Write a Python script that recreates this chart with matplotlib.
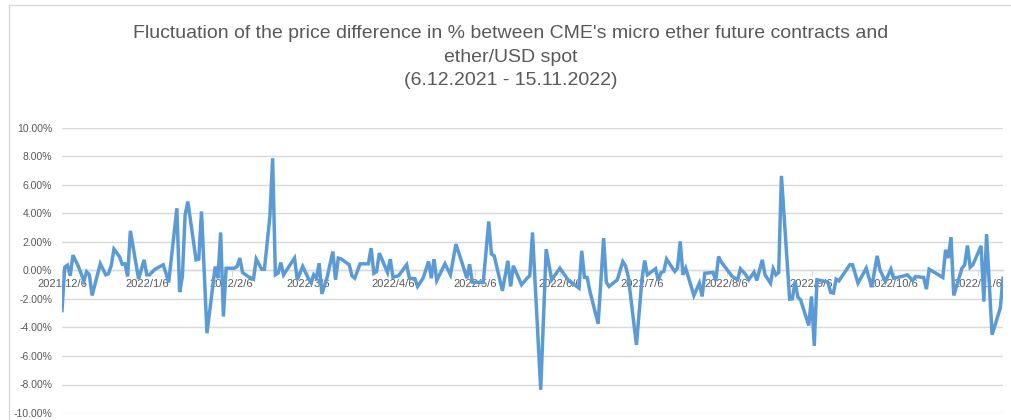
import matplotlib
matplotlib.use("Agg")
import matplotlib.pyplot as plt
from matplotlib.ticker import FuncFormatter
import pandas as pd

# ---- data ----
start_date = "2021-12-06"
end_date = "2022-11-15"
day_offsets = [
    0, 1, 2, 3, 4, 6, 8, 9, 10, 11, 14, 16, 17, 18, 19, 21, 22, 23, 24, 25,
    28, 30, 31, 32, 34, 37, 38, 39, 42, 43, 44, 45, 46, 49, 50, 51, 53, 56, 57, 58,
    59, 60, 63, 64, 65, 66, 68, 70, 71, 73, 74, 76, 77, 78, 79, 80, 81, 85, 86, 88,
    90, 91, 92, 93, 94, 95, 97, 99, 100, 101, 102, 105, 106, 107, 109, 112, 113, 114, 115, 116,
    119, 120, 121, 123, 126, 127, 129, 130, 132, 134, 135, 136, 137, 140, 142, 144, 146, 148, 149, 150,
    154, 156, 157, 158, 161, 163, 164, 165, 168, 170, 171, 172, 175, 177, 179, 182, 185, 189, 190, 191,
    192, 193, 196, 198, 199, 200, 203, 205, 206, 207, 210, 212, 213, 214, 217, 218, 219, 220, 221, 224,
    225, 226, 227, 228, 231, 233, 234, 235, 238, 239, 240, 241, 242, 245, 247, 248, 250, 251, 253, 254,
    256, 257, 259, 260, 261, 262, 263, 266, 267, 268, 269, 270, 273, 274, 275, 276, 278, 280, 281, 282,
    283, 284, 288, 289, 291, 294, 296, 298, 299, 301, 303, 304, 307, 309, 311, 312, 315, 316, 317, 322,
    323, 324, 325, 326, 329, 330, 331, 332, 333, 336, 337, 338, 340, 343, 344,
]
price_diff_pct = [
    -2.81, 0.23, 0.37, -0.37, 1.08, 0.28, -0.73, -0.09, -0.30, -1.75, 0.47, -0.30, -0.23, 0.35, 1.50, 0.98, 0.44, 0.47, -0.42, 2.78,
    -0.61, 0.75, -0.30, -0.30, 0.09, 0.40, -0.19, -0.84, 4.37, -1.52, -0.42, 3.90, 4.84, 0.75, 0.80, 4.14, -4.40, 0.28, -0.54, 2.67,
    -3.23, 0.16, 0.16, 0.28, 0.87, -0.14, -0.42, -0.61, 0.80, 0.09, 0.09, 3.79, 7.88, -0.30, -0.19, 0.56, -0.30, 0.87, -0.65, 0.28,
    -0.54, -0.84, -0.30, -0.54, 0.51, -1.64, -0.42, 1.33, -0.65, 0.87, 0.82, 0.40, -0.37, -0.54, 0.47, 0.47, 1.57, -0.19, -0.07, 1.22,
    -0.14, 0.80, -0.47, -0.37, 0.40, -0.54, -0.58, -1.12, -0.54, 0.63, -0.54, 0.80, -0.70, 0.47, -0.30, 1.85, 0.68, -0.54, 0.44, -0.82,
    -0.84, 3.44, 1.15, 1.03, -1.43, 0.68, -1.12, 0.33, -1.00, -0.54, -0.37, 2.67, -8.37, 1.50, -0.65, 0.16, -0.65, -1.24, 1.38, -0.49,
    -0.49, -1.47, -3.74, 2.27, -0.84, -1.12, -0.65, 0.63, 0.33, -0.42, -5.22, -0.65, 0.70, -0.30, 0.12, -0.70, -0.14, -0.07, 0.80, -0.07,
    0.16, 2.04, -0.30, 0.16, -1.75, -0.89, -1.82, -0.19, -0.14, -0.73, 0.98, 0.60, 0.35, -0.42, -0.65, 0.12, -0.30, -0.65, -0.12, -0.70,
    0.75, -0.30, -0.89, 0.12, -0.30, -0.14, 6.64, -2.01, -1.99, -0.77, -1.87, -2.06, -3.86, -1.82, -5.29, -0.65, -0.73, -0.82, -1.54, -1.59,
    -0.61, -0.73, 0.40, 0.40, -0.89, 0.16, -1.17, 1.03, 0.05, -0.77, 0.09, -0.54, -0.42, -0.30, -0.70, -0.42, -0.49, -1.31, 0.09, -0.49,
    1.45, 0.87, 2.34, -1.75, 0.16, 0.40, 1.75, 0.23, 0.40, 1.73, -2.18, 2.55, -4.51, -2.64, -0.54,
]
y_ticks = [-10, -8, -6, -4, -2, 0, 2, 4, 6, 8, 10]
title_lines = [
    "Fluctuation of the price difference in % between CME's micro ether future contracts and",
    "ether/USD spot",
    "(6.12.2021 - 15.11.2022)",
]

# ---- build ----
t0 = pd.Timestamp(start_date)
dates = t0 + pd.to_timedelta(day_offsets, unit="D")
tick_dates = pd.date_range(t0, pd.Timestamp(end_date), freq="MS") + pd.Timedelta(days=5)
tick_dates = [t0] + [d for d in tick_dates if d > t0]

GRAY_TXT = "#595959"
GRID = "#D9D9D9"
BLUE = "#5B9BD5"

fig = plt.figure(figsize=(10.11, 4.20), dpi=100)
fig.patch.set_facecolor("white")

ax = fig.add_axes([62 / 1011, 1 - 413 / 420, (1003 - 62) / 1011, (413 - 128) / 420])
ax.plot(dates, price_diff_pct, color=BLUE, lw=2.5, solid_joinstyle="miter", zorder=3)

ax.set_ylim(-10, 10)
ax.set_yticks(y_ticks)
ax.yaxis.set_major_formatter(FuncFormatter(lambda v, p: f"{v:.2f}%"))
ax.set_xlim(t0, pd.Timestamp(end_date))
ax.set_xticks(tick_dates)
ax.set_xticklabels([f"{d.year}/{d.month}/{d.day}" for d in tick_dates])

ax.grid(axis="y", color=GRID, lw=1.0, zorder=0)
for s in ["top", "right", "left"]:
    ax.spines[s].set_visible(False)
ax.spines["bottom"].set_position(("data", 0))
ax.spines["bottom"].set_color(GRID)
ax.spines["bottom"].set_linewidth(1.0)
ax.spines["bottom"].set_zorder(1)

ax.tick_params(axis="y", length=0, pad=7, labelsize=7.5, labelcolor=GRAY_TXT)
ax.tick_params(axis="x", length=4, color=GRID, pad=2, labelsize=8, labelcolor=GRAY_TXT)
for lab in ax.get_xticklabels() + ax.get_yticklabels():
    lab.set_family(["Liberation Sans", "DejaVu Sans"])

fig.text(511 / 1011, 1 - 57 / 420, "\n".join(title_lines), ha="center", va="center",
         fontsize=14, color=GRAY_TXT, family=["Liberation Sans", "DejaVu Sans"],
         linespacing=1.5)

# chart-area border (partially visible in reference)
fig.add_artist(plt.Line2D([9 / 1011, 1], [1 - 5 / 420] * 2, color=GRID, lw=1.0,
                          transform=fig.transFigure))
fig.add_artist(plt.Line2D([9 / 1011] * 2, [0, 1 - 5 / 420], color=GRID, lw=1.0,
                          transform=fig.transFigure))

fig.savefig("out.png", dpi=100)
